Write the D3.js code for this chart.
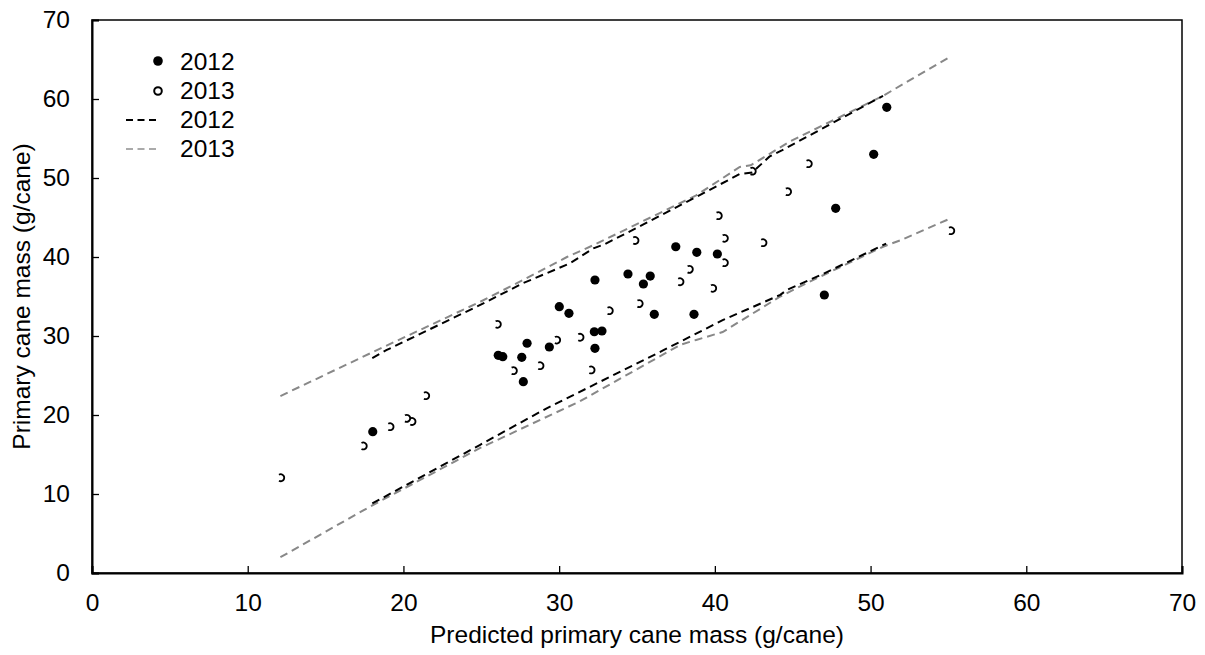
<!DOCTYPE html>
<html>
<head>
<meta charset="utf-8">
<script src="https://cdn.jsdelivr.net/npm/d3@7"></script>
<style>
  body { margin: 0; background: #fff; }
  text { font-family: Arial, "Liberation Sans", sans-serif; fill: #000; }
</style>
</head>
<body>
<div id="chart"></div>
<script>
// observed points, [predicted, measured]
var pts2012 = [
  [18.03, 17.89], [26.09, 27.56], [26.38, 27.38], [27.60, 27.30], [27.70, 24.22],
  [27.94, 29.08], [29.37, 28.61], [30.01, 33.71], [30.63, 32.87], [32.26, 30.54],
  [32.75, 30.63], [32.30, 28.44], [32.30, 37.09], [34.42, 37.85], [35.85, 37.59],
  [35.41, 36.58], [36.11, 32.75], [37.49, 41.30], [38.84, 40.59], [38.66, 32.75],
  [40.16, 40.38], [47.03, 35.19], [47.76, 46.16], [50.20, 53.00], [51.04, 58.95]
];
var pts2013 = [
  [12.12, 12.06], [17.42, 16.08], [19.14, 18.52], [20.21, 19.58], [20.55, 19.18],
  [21.43, 22.44], [26.03, 31.48], [27.06, 25.61], [28.77, 26.24], [29.84, 29.49],
  [31.34, 29.84], [32.05, 25.70], [33.22, 33.20], [35.14, 34.10], [34.87, 42.09],
  [37.76, 36.87], [38.36, 38.44], [39.86, 36.04], [40.61, 39.28], [40.61, 42.37],
  [40.22, 45.23], [43.09, 41.81], [42.40, 50.86], [44.67, 48.27], [46.00, 51.81],
  [55.15, 43.33]
];
// prediction interval limits
var upper2012 = [[18.0, 27.2], [18.9, 28.2], [24.9, 33.9], [27.7, 36.7], [30.7, 39.2], [32.2, 41.1],
  [32.9, 41.6], [34.3, 43.0], [38.8, 47.6], [41.6, 50.5], [42.4, 50.7], [43.5, 52.7], [44.3, 53.5], [50.8, 60.4]];
var lower2012 = [[18.0, 8.8], [24.9, 16.2], [29.2, 20.85], [36.7, 28.2], [37.8, 29.3], [38.6, 30.1],
  [40.5, 32.0], [44.2, 35.2], [44.6, 35.8], [47.0, 37.9], [51.0, 41.7]];
var upper2013 = [[12.1, 22.4], [18.5, 28.4], [24.9, 34.3], [27.7, 37.1], [30.5, 40.0],
  [32.2, 41.5], [38.8, 47.8], [41.6, 51.4], [42.3, 51.6], [44.8, 54.6], [50.8, 60.4], [55.15, 65.4]];
var lower2013 = [[12.1, 2.0], [17.85, 8.4], [24.9, 15.8], [31.3, 21.7], [37.8, 28.9], [38.8, 29.5],
  [40.5, 30.5], [44.2, 35.0], [45.9, 36.7], [50.8, 41.3], [51.9, 42.1], [55.15, 44.9]];
var xTicks = [0, 10, 20, 30, 40, 50, 60, 70];
var yTicks = [0, 10, 20, 30, 40, 50, 60, 70];

var W = 1205, H = 655;
var m = {left: 92, right: 23, top: 20, bottom: 82};
var fs = "24.5px";

var svg = d3.select("#chart").append("svg")
  .attr("width", W)
  .attr("height", H);

var x = d3.scaleLinear().domain([0, 70]).range([m.left, W - m.right]);
var y = d3.scaleLinear().domain([0, 70]).range([H - m.bottom, m.top]);

// frame
svg.append("rect")
  .attr("x", x(0)).attr("y", y(70))
  .attr("width", x(70) - x(0)).attr("height", y(0) - y(70))
  .attr("fill", "none").attr("stroke", "#000").attr("stroke-width", 1.5);

var xAxis = svg.append("g")
  .attr("transform", "translate(0," + y(0) + ")")
  .call(d3.axisBottom(x).tickValues(xTicks).tickSize(-7).tickPadding(21));
var yAxis = svg.append("g")
  .attr("transform", "translate(" + x(0) + ",0)")
  .call(d3.axisLeft(y).tickValues(yTicks).tickSize(-7).tickPadding(22));
[xAxis, yAxis].forEach(function(a) {
  a.select(".domain").attr("stroke-width", 2);
  a.selectAll(".tick line").attr("stroke-width", 1.3);
  a.selectAll("text").style("font-size", fs).style("font-family", "Arial, 'Liberation Sans', sans-serif");
});

// interval lines
var line = d3.line().x(function(d) { return x(d[0]); }).y(function(d) { return y(d[1]); });
[[upper2013, "#888"], [lower2013, "#888"], [upper2012, "#000"], [lower2012, "#000"]].forEach(function(s) {
  svg.append("path")
    .datum(s[0])
    .attr("d", line)
    .attr("fill", "none")
    .attr("stroke", s[1])
    .attr("stroke-width", 2)
    .attr("stroke-dasharray", "8,5");
});

// 2013 open markers (drawn as open arcs like the source)
var arc = d3.arc().innerRadius(2.6).outerRadius(4.4).startAngle(-Math.PI / 6).endAngle(7 * Math.PI / 6);
svg.append("g").selectAll("path")
  .data(pts2013)
  .join("path")
  .attr("transform", function(d) { return "translate(" + x(d[0]) + "," + y(d[1]) + ")"; })
  .attr("d", arc())
  .attr("fill", "#000");

// 2012 filled markers
svg.append("g").selectAll("circle")
  .data(pts2012)
  .join("circle")
  .attr("cx", function(d) { return x(d[0]); })
  .attr("cy", function(d) { return y(d[1]); })
  .attr("r", 4.6)
  .attr("fill", "#000");

// legend
var lg = svg.append("g").attr("transform", "translate(158,61)");
lg.append("circle").attr("cx", 0).attr("cy", 0).attr("r", 4.8).attr("fill", "#000");
lg.append("circle").attr("cx", 0).attr("cy", 30).attr("r", 3.8)
  .attr("fill", "none").attr("stroke", "#000").attr("stroke-width", 2);
lg.append("line").attr("x1", -32).attr("x2", 0).attr("y1", 59).attr("y2", 59)
  .attr("stroke", "#000").attr("stroke-width", 2).attr("stroke-dasharray", "7,4.5");
lg.append("line").attr("x1", -32).attr("x2", 0).attr("y1", 88).attr("y2", 88)
  .attr("stroke", "#aaa").attr("stroke-width", 2).attr("stroke-dasharray", "7,4.5");
["2012", "2013", "2012", "2013"].forEach(function(t, i) {
  lg.append("text").attr("x", 22).attr("y", i * 29.3 + 8.5)
    .style("font-size", fs).text(t);
});

// axis titles
svg.append("text")
  .attr("x", (x(0) + x(70)) / 2).attr("y", 643)
  .attr("text-anchor", "middle").style("font-size", fs)
  .text("Predicted primary cane mass (g/cane)");
svg.append("text")
  .attr("transform", "translate(30," + (y(0) + y(70)) / 2 + ") rotate(-90)")
  .attr("text-anchor", "middle").style("font-size", fs)
  .text("Primary cane mass (g/cane)");
</script>
</body>
</html>
